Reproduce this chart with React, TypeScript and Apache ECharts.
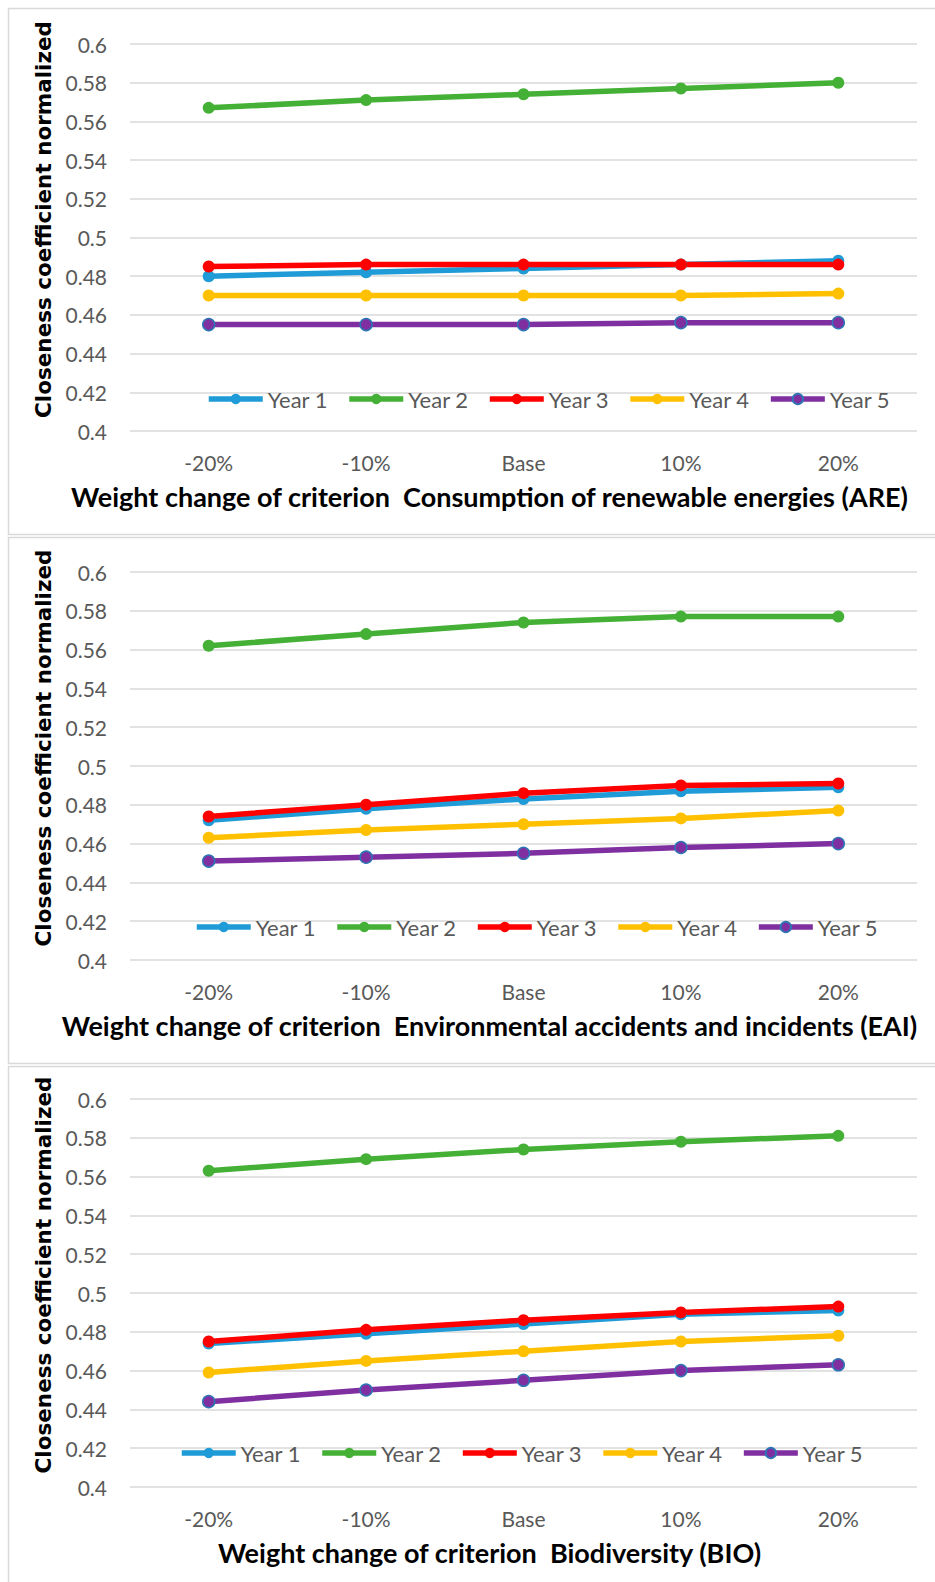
import React, { useEffect, useRef } from "react";
import * as echarts from "echarts";

// Sensitivity of the normalized closeness coefficient to criterion weights
const categories = ["-20%", "-10%", "Base", "10%", "20%"];
const years = ["Year 1", "Year 2", "Year 3", "Year 4", "Year 5"];
const yTicks = { min: 0.4, max: 0.6, interval: 0.02 };

// Consumption of renewable energies (ARE)
const areYear1 = [0.480, 0.482, 0.484, 0.486, 0.488];
const areYear2 = [0.567, 0.571, 0.574, 0.577, 0.580];
const areYear3 = [0.485, 0.486, 0.486, 0.486, 0.486];
const areYear4 = [0.470, 0.470, 0.470, 0.470, 0.471];
const areYear5 = [0.455, 0.455, 0.455, 0.456, 0.456];

// Environmental accidents and incidents (EAI)
const eaiYear1 = [0.472, 0.478, 0.483, 0.487, 0.489];
const eaiYear2 = [0.562, 0.568, 0.574, 0.577, 0.577];
const eaiYear3 = [0.474, 0.480, 0.486, 0.490, 0.491];
const eaiYear4 = [0.463, 0.467, 0.470, 0.473, 0.477];
const eaiYear5 = [0.451, 0.453, 0.455, 0.458, 0.460];

// Biodiversity (BIO)
const bioYear1 = [0.474, 0.479, 0.484, 0.489, 0.491];
const bioYear2 = [0.563, 0.569, 0.574, 0.578, 0.581];
const bioYear3 = [0.475, 0.481, 0.486, 0.490, 0.493];
const bioYear4 = [0.459, 0.465, 0.470, 0.475, 0.478];
const bioYear5 = [0.444, 0.450, 0.455, 0.460, 0.463];

const xTitles = [
  "Weight change of criterion  Consumption of renewable energies (ARE)",
  "Weight change of criterion  Environmental accidents and incidents (EAI)",
  "Weight change of criterion  Biodiversity (BIO)",
];
const yTitle = "Closeness coefficient normalized";

const panelData = [
  [areYear1, areYear2, areYear3, areYear4, areYear5],
  [eaiYear1, eaiYear2, eaiYear3, eaiYear4, eaiYear5],
  [bioYear1, bioYear2, bioYear3, bioYear4, bioYear5],
];

const yearColors = ["#1f9bd7", "#44b035", "#ff0000", "#ffc000", "#7f2fa0"];

// layout of each framed panel
const panels = [
  { frameTop: 8, frameHeight: 526, gridTop: 44, gridHeight: 387, legendLeft: 201, legendTop: 383 },
  { frameTop: 537, frameHeight: 526, gridTop: 572, gridHeight: 388, legendLeft: 189, legendTop: 911 },
  { frameTop: 1066, frameHeight: 560, gridTop: 1099, gridHeight: 388, legendLeft: 174, legendTop: 1437 },
];

const labelFont = "Lato, 'Open Sans', sans-serif";
const textGray = "#595959";
const gridGray = "#d9d9d9";

export default function App() {
  const ref = useRef<HTMLDivElement>(null);

  useEffect(() => {
    if (!ref.current) return;
    const chart = echarts.init(ref.current, undefined, { renderer: "svg" });

    const grid = panels.map((p) => ({
      left: 130,
      right: 18,
      top: p.gridTop,
      height: p.gridHeight,
      containLabel: false,
    }));

    const xAxis = panels.map((_, i) => ({
      type: "category",
      gridIndex: i,
      data: categories,
      boundaryGap: true,
      axisLine: { show: false },
      axisTick: { show: false },
      axisLabel: { color: textGray, fontSize: 21, fontFamily: labelFont, margin: 21 },
      name: xTitles[i],
      nameLocation: "middle",
      nameGap: 52,
      nameTextStyle: {
        color: "#000",
        fontSize: 27,
        fontWeight: "bold",
        fontFamily: labelFont,
        padding: [0, 68, 0, 0],
      },
    }));

    const yAxis = panels.map((_, i) => ({
      type: "value",
      gridIndex: i,
      min: yTicks.min,
      max: yTicks.max,
      interval: yTicks.interval,
      axisLine: { show: false },
      axisTick: { show: false },
      splitLine: { lineStyle: { color: gridGray, width: 1.5 } },
      axisLabel: {
        color: textGray,
        fontSize: 21,
        fontFamily: labelFont,
        margin: 23,
        formatter: (v: number) => String(+v.toFixed(2)),
      },
      name: yTitle,
      nameLocation: "middle",
      nameGap: 70,
      nameTextStyle: {
        color: "#000",
        fontSize: 21.5,
        fontWeight: "bold",
        fontFamily: "'DejaVu Sans', sans-serif",
        padding: [0, 0, 0, 36],
      },
    }));

    const series: any[] = [];
    panelData.forEach((rows, pi) => {
      rows.forEach((values, yi) => {
        series.push({
          type: "line",
          name: years[yi],
          xAxisIndex: pi,
          yAxisIndex: pi,
          data: values,
          symbol: "circle",
          symbolSize: 12,
          lineStyle: { width: 5.5, color: yearColors[yi] },
          itemStyle:
            yi === 4
              ? { color: yearColors[yi], borderColor: "#2e75b6", borderWidth: 1.5 }
              : { color: yearColors[yi] },
        });
      });
    });

    const legend = panels.map((p) => ({
      data: years,
      left: p.legendLeft,
      top: p.legendTop,
      orient: "horizontal",
      itemWidth: 54,
      itemHeight: 13,
      itemGap: 18.5,
      selectedMode: false,
      lineStyle: { width: 5.5 },
      textStyle: { color: textGray, fontSize: 22, fontFamily: labelFont },
    }));

    const frames = panels.map((p) => ({
      type: "rect",
      silent: true,
      z: -10,
      shape: { x: 8.5, y: p.frameTop + 0.5, width: 940, height: p.frameHeight },
      style: { fill: "none", stroke: gridGray, lineWidth: 1.5 },
    }));

    chart.setOption({
      animation: false,
      backgroundColor: "#ffffff",
      grid,
      xAxis,
      yAxis,
      legend,
      series,
      graphic: frames,
    });

    return () => chart.dispose();
  }, []);

  return (
    <div
      ref={ref}
      style={{ position: "absolute", left: 0, top: 0, width: 935, height: 1582, background: "#fff" }}
    />
  );
}
